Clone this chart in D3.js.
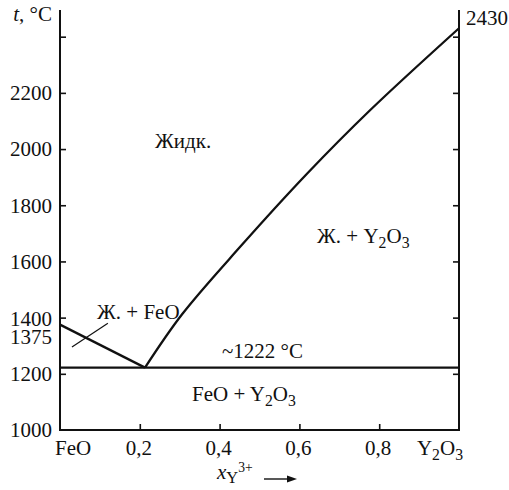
<!DOCTYPE html>
<html><head><meta charset="utf-8">
<script src="https://cdn.jsdelivr.net/npm/d3@7"></script>
<style>body{margin:0;background:#fff}svg{display:block}text{font-family:"Liberation Serif","Times New Roman",serif;fill:#111}</style>
</head><body>
<script>
// Data
const xTickValues = [0, 0.2, 0.4, 0.6, 0.8, 1];
const xTickLabels = ["FeO", "0,2", "0,4", "0,6", "0,8", "Y2O3"];
const yTickValues = [1200, 1400, 1600, 1800, 2000, 2200, 2400];
const yTickLabels = ["1000", "1200", "1375", "1400", "1600", "1800", "2000", "2200"];
const yLabelValues = [1000, 1200, 1375, 1400, 1600, 1800, 2000, 2200];
const liquidusFeO = [[0, 1375], [0.213, 1222]];
const liquidusY2O3 = [[0.213, 1222], [0.306, 1412], [0.451, 1651], [0.619, 1912], [0.777, 2138], [1, 2430]];
const eutectic = [[0, 1222], [1, 1222]];
const pointer = [[0.03, 1295], [0.12, 1380]];

const W = 509, H = 490;
const svg = d3.select("body").append("svg").attr("width", W).attr("height", H);
const x = d3.scaleLinear().domain([0, 1]).range([60, 459]);
const y = d3.scaleLinear().domain([1000, 2495]).range([430, 10]);
const FS = 21;

// frame axes
const g = svg.append("g");
g.append("line").attr("x1", x(0)).attr("x2", x(0)).attr("y1", y.range()[1]).attr("y2", y(1000)).attr("stroke", "#111").attr("stroke-width", 2);
g.append("line").attr("x1", x(1)).attr("x2", x(1)).attr("y1", y.range()[1]).attr("y2", y(1000)).attr("stroke", "#111").attr("stroke-width", 2);
g.append("line").attr("x1", x(0) - 1).attr("x2", x(1) + 1).attr("y1", y(1000)).attr("y2", y(1000)).attr("stroke", "#111").attr("stroke-width", 2);

// ticks
const leftAxis = d3.axisRight(y).tickValues(yTickValues).tickSize(6).tickFormat("");
const rightAxis = d3.axisLeft(y).tickValues(yTickValues).tickSize(6).tickFormat("");
const bottomAxis = d3.axisTop(x).tickValues(xTickValues.slice(1, 5)).tickSize(6).tickFormat("");
[ [leftAxis, `translate(${x(0)},0)`], [rightAxis, `translate(${x(1)},0)`], [bottomAxis, `translate(0,${y(1000)})`] ].forEach(([ax, tr]) => {
  const a = svg.append("g").attr("transform", tr).call(ax);
  a.select(".domain").remove();
  a.selectAll(".tick line").attr("stroke", "#111").attr("stroke-width", 1.6);
});

// y labels
yLabelValues.forEach((v, i) => {
  const off = v === 1375 ? 12.5 : (v === 1400 ? 1 : 0);
  svg.append("text").attr("x", 52).attr("y", y(v) + off).attr("dy", "0.35em")
    .attr("text-anchor", "end").attr("font-size", FS).text(yTickLabels[i]);
});
// axis title t, °C
const tt = svg.append("text").attr("x", 52).attr("y", 21).attr("text-anchor", "end").attr("font-size", FS);
tt.append("tspan").attr("font-style", "italic").text("t");
tt.append("tspan").text(", °C");
// 2430 label right
svg.append("text").attr("x", 466).attr("y", 25).attr("font-size", FS).text("2430");

// x labels
xTickValues.forEach((v, i) => {
  const lab = xTickLabels[i];
  const t = svg.append("text").attr("y", 455).attr("font-size", FS);
  if (lab === "Y2O3") {
    t.attr("x", x(v) + 4).attr("text-anchor", "end");
    t.append("tspan").text("Y");
    t.append("tspan").attr("font-size", FS * 0.75).attr("dy", 5).text("2");
    t.append("tspan").attr("dy", -5).text("O");
    t.append("tspan").attr("font-size", FS * 0.75).attr("dy", 5).text("3");
  } else if (lab === "FeO") {
    t.attr("x", x(v) - 5).attr("text-anchor", "start").text(lab);
  } else {
    t.attr("x", x(v) - 1).attr("text-anchor", "middle").text(lab);
  }
});

// x axis title
const xt = svg.append("text").attr("x", 217).attr("y", 479).attr("font-size", FS);
xt.append("tspan").attr("font-style", "italic").text("x");
xt.append("tspan").attr("font-size", FS * 0.78).attr("dy", 4).text("Y");
xt.append("tspan").attr("font-size", FS * 0.65).attr("dy", -11).text("3+");
svg.append("line").attr("x1", 264).attr("x2", 292).attr("y1", 479).attr("y2", 479).attr("stroke", "#111").attr("stroke-width", 1.4);
svg.append("path").attr("d", "M297,479 L287,475.5 L287,482.5 Z").attr("fill", "#111");

// curves
const line = d3.line().x(d => x(d[0])).y(d => y(d[1]));
const curve = d3.line().x(d => x(d[0])).y(d => y(d[1])).curve(d3.curveCatmullRom.alpha(0.5));
svg.append("path").attr("d", line(eutectic)).attr("fill", "none").attr("stroke", "#111").attr("stroke-width", 2.3);
svg.append("path").attr("d", line(liquidusFeO)).attr("fill", "none").attr("stroke", "#111").attr("stroke-width", 2.3);
svg.append("path").attr("d", curve(liquidusY2O3)).attr("fill", "none").attr("stroke", "#111").attr("stroke-width", 2.3);
svg.append("path").attr("d", line(pointer)).attr("fill", "none").attr("stroke", "#111").attr("stroke-width", 1.2);

// region labels
svg.append("text").attr("x", 155).attr("y", 148).attr("font-size", FS).text("Жидк.");
svg.append("text").attr("x", 97).attr("y", 319).attr("font-size", FS).text("Ж. + FeO");
svg.append("text").attr("x", 222).attr("y", 358).attr("font-size", FS).text("~1222 °C");
function y2o3(t) {
  t.append("tspan").text("Y");
  t.append("tspan").attr("font-size", FS * 0.75).attr("dy", 5).text("2");
  t.append("tspan").attr("dy", -5).text("O");
  t.append("tspan").attr("font-size", FS * 0.75).attr("dy", 5).text("3");
}
const a = svg.append("text").attr("x", 317).attr("y", 243).attr("font-size", FS);
a.append("tspan").text("Ж. + ");
y2o3(a);
const b = svg.append("text").attr("x", 192).attr("y", 401).attr("font-size", FS);
b.append("tspan").text("FeO + ");
y2o3(b);
</script>
</body></html>
